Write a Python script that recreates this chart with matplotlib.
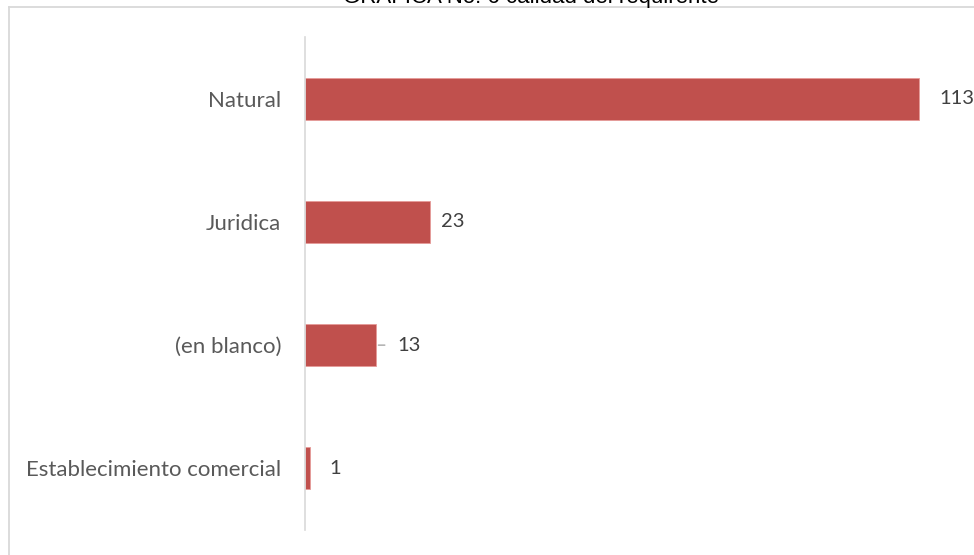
import matplotlib
matplotlib.use("Agg")
import matplotlib.pyplot as plt
from matplotlib.lines import Line2D

categories = ["Natural", "Juridica", "(en blanco)", "Establecimiento comercial"]
values = [113, 23, 13, 1]
title = "GRAFICA No. 6 calidad del requirente"

W, H = 974, 555
fig = plt.figure(figsize=(W / 100, H / 100), dpi=100)

# axes in pixel coordinates
ax_left, ax_right, ax_top, ax_bottom = 305, 960, 37, 530
ax = fig.add_axes([ax_left / W, 1 - ax_bottom / H, (ax_right - ax_left) / W, (ax_bottom - ax_top) / H])
scale = (920 - 306) / 113.0
ax.set_xlim(0, (ax_right - ax_left) / scale)

n = len(categories)
ypos = list(range(n))[::-1]
ax.barh(ypos, values, height=0.34, color="#C0504D", edgecolor="#E59A98", linewidth=0.6)
ax.set_ylim(-0.5, n - 0.5)
ax.set_yticks(ypos)
ax.set_yticklabels(categories, fontfamily="Lato", fontsize=16, color="#595959")
ax.tick_params(axis="y", length=0, pad=17)
ax.set_xticks([])
for s in ["top", "right", "bottom"]:
    ax.spines[s].set_visible(False)
ax.spines["left"].set_color("#D9D9D9")
ax.spines["left"].set_linewidth(1.2)

offsets = [20, 11, 22, 19]
for y, v, off in zip(ypos, values, offsets):
    ax.annotate(str(v), xy=(v, y), xytext=(off, 0), textcoords="offset pixels",
                va="center", ha="left", fontfamily="Lato", fontsize=14.5, color="#404040")
    if v == 13:
        ax.annotate("", xy=(v, y), xytext=(12, 0), textcoords="offset pixels",
                    arrowprops=dict(arrowstyle="-", color="#A6A6A6", lw=1.0))

# outer frame (chart area border) partially visible
fig.add_artist(Line2D([8.5 / W, 1.0], [1 - 6.5 / H, 1 - 6.5 / H], transform=fig.transFigure,
                      color="#D9D9D9", lw=1.3))
fig.add_artist(Line2D([8.5 / W, 8.5 / W], [0, 1 - 6.5 / H], transform=fig.transFigure,
                      color="#D9D9D9", lw=1.3))

fig.text(531 / W, 1 - 3 / H, title, ha="center", va="baseline",
         fontfamily="Liberation Sans", fontsize=16, color="#000000")

fig.savefig("out.png", dpi=100)
